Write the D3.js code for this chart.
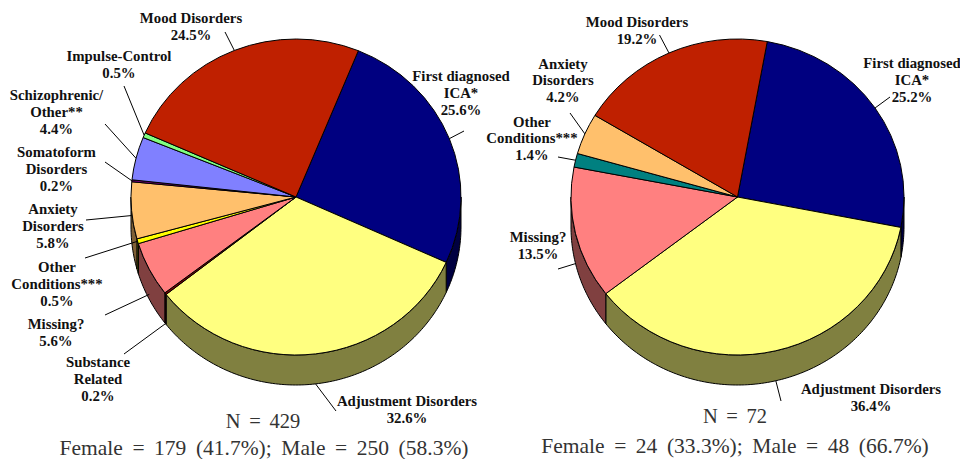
<!DOCTYPE html>
<html><head><meta charset="utf-8">
<script src="https://cdnjs.cloudflare.com/ajax/libs/d3/7.8.5/d3.min.js"></script>
<style>html,body{margin:0;padding:0;background:#fff}svg{display:block}</style>
</head><body><svg id="c" width="960" height="459"></svg>
<script>
// ---------- data ----------
const leftCategories = ["First diagnosed ICA*","Adjustment Disorders","Substance Related","Missing?","Other Conditions***","Anxiety Disorders","Somatoform Disorders","Schizophrenic/ Other**","Impulse-Control","Mood Disorders"];
const leftValues = [25.6,32.6,0.2,5.6,0.5,5.8,0.2,4.4,0.5,24.5];
const leftColors = ["#000080","#FFFF80","#800000","#FF8080","#FFFF00","#FFC06C","#800080","#8080FF","#80FF80","#BF2000"];
const leftLabels = [["First diagnosed","ICA*","25.6%"],["Adjustment Disorders","32.6%"],["Substance","Related","0.2%"],["Missing?","5.6%"],["Other","Conditions***","0.5%"],["Anxiety","Disorders","5.8%"],["Somatoform","Disorders","0.2%"],["Schizophrenic/","Other**","4.4%"],["Impulse-Control","0.5%"],["Mood Disorders","24.5%"]];
const rightCategories = ["First diagnosed ICA*","Adjustment Disorders","Missing?","Other Conditions***","Anxiety Disorders","Mood Disorders"];
const rightValues = [25.2,36.4,13.5,1.4,4.2,19.2];
const rightColors = ["#000080","#FFFF80","#FF8080","#008080","#FFC06C","#BF2000"];
const rightLabels = [["First diagnosed","ICA*","25.2%"],["Adjustment Disorders","36.4%"],["Missing?","13.5%"],["Other","Conditions***","1.4%"],["Anxiety","Disorders","4.2%"],["Mood Disorders","19.2%"]];
const leftCaption = ["N = 429","Female = 179 (41.7%); Male = 250 (58.3%)"];
const rightCaption = ["N = 72","Female = 24 (33.3%); Male = 48 (66.7%)"];

// ---------- layout ----------
const leftLayout = {cx:296,cy:197,rx:165,ry:158,depth:30,startDeg:22.2,
  labelX:[461,407,98,56,57,53,56.5,56.5,119,191],
  labelY:[81,406,367,329,272,214,157,100,61,23],
  leaderFrom:[[464,131],[336,411],[124,354],[105,315],[85,258],[86,220],[105,162],[105,124],[124,86],[225,32]],
  leaderDrop:[0,30,30,25,0,5,0,0,0,0],
  captionX:[263,264],captionY:[428,455]};
const rightLayout = {cx:737.5,cy:197,rx:166.5,ry:158,depth:30,startDeg:10.3,
  labelX:[912,871,538,532,563,637],
  labelY:[68,394,242,126.5,68.5,27],
  leaderFrom:[[890,97],[781,401],[558,269],[558,157],[570,113],[659.5,35]],
  leaderDrop:[0,30,30,0,0,0],
  captionX:[735,735],captionY:[423,453]};
const captionSize = [20.5,21.5], captionWordSpacing = [3.5,4.2];

const svg = d3.select("#c");
const rad = Math.PI/180;

function drawPie(values, colors, labels, categories, caption, L){
  const start = L.startDeg*rad;
  const arcs = d3.pie().sort(null).startAngle(start).endAngle(start+2*Math.PI)(values);
  const g = svg.append("g").attr("transform",`translate(${L.cx},${L.cy})`);
  const px = a => L.rx*Math.sin(a), py = a => -L.ry*Math.cos(a);
  const line = d3.line();

  // side wall: visible front half only
  const wall = g.append("g");
  arcs.forEach((d,i)=>{
    [0,1].forEach(turn=>{
      const a0 = Math.max(d.startAngle, Math.PI/2+turn*2*Math.PI);
      const a1 = Math.min(d.endAngle, 3*Math.PI/2+turn*2*Math.PI);
      if(a1<=a0) return;
      const n = Math.max(2,Math.ceil((a1-a0)/rad));
      const as = d3.range(n+1).map(k=>a0+(a1-a0)*k/n);
      const pts = as.map(a=>[px(a),py(a)]).concat(as.slice().reverse().map(a=>[px(a),py(a)+L.depth]));
      const c = d3.rgb(colors[i]);
      wall.append("path").attr("d",line(pts)+"Z")
        .attr("fill",d3.rgb(c.r/2,c.g/2,c.b/2).formatHex())
        .attr("stroke","#000").attr("stroke-width",1).attr("stroke-linejoin","round");
    });
  });

  // top face
  const arc = d3.arc().innerRadius(0).outerRadius(L.rx);
  g.append("g").attr("transform",`scale(1,${L.ry/L.rx})`)
    .selectAll("path").data(arcs).join("path")
    .attr("d",arc).attr("fill",(d,i)=>colors[i])
    .attr("stroke","#000").attr("stroke-width",1)
    .attr("vector-effect","non-scaling-stroke").attr("stroke-linejoin","round")
    .append("title").text((d,i)=>categories[i]);

  // leaders
  arcs.forEach((d,i)=>{
    const m=(d.startAngle+d.endAngle)/2;
    svg.append("line")
      .attr("x1",L.leaderFrom[i][0]).attr("y1",L.leaderFrom[i][1])
      .attr("x2",L.cx+px(m)).attr("y2",L.cy+py(m)+L.leaderDrop[i])
      .attr("stroke","#000").attr("stroke-width",1);
  });

  // labels
  labels.forEach((lines,i)=>{
    const t = svg.append("text").attr("text-anchor","middle")
      .attr("font-family","'Liberation Serif',serif").attr("font-weight","bold")
      .attr("font-size",14.8).attr("fill","#111");
    lines.forEach((s,k)=>t.append("tspan").attr("x",L.labelX[i]).attr("y",L.labelY[i]+k*16.9).text(s));
  });

  // captions
  caption.forEach((s,k)=>{
    svg.append("text").attr("x",L.captionX[k]).attr("y",L.captionY[k]).attr("text-anchor","middle")
      .attr("font-family","'Liberation Serif',serif").attr("font-size",captionSize[k])
      .attr("word-spacing",captionWordSpacing[k]).attr("fill","#333").text(s);
  });
}
drawPie(leftValues,leftColors,leftLabels,leftCategories,leftCaption,leftLayout);
drawPie(rightValues,rightColors,rightLabels,rightCategories,rightCaption,rightLayout);
</script></body></html>
